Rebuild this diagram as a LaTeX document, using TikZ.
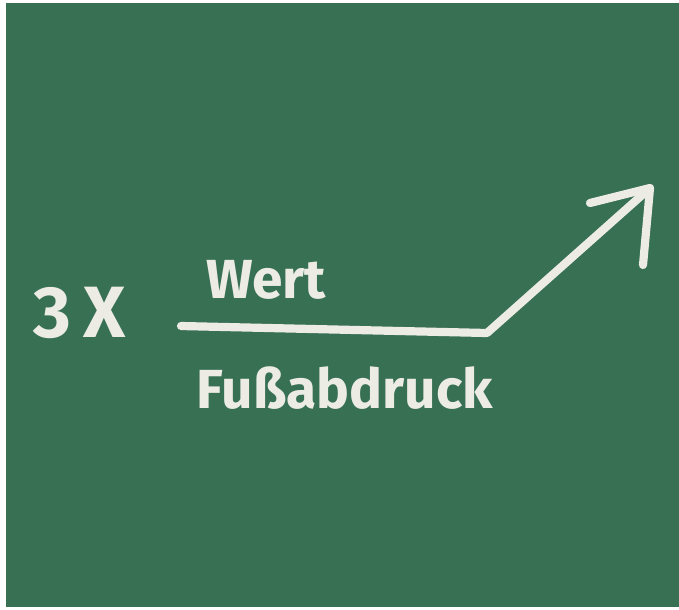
\documentclass[tikz,border=0pt]{standalone}
\usepackage{fontspec}
\setmainfont{Fira Sans}
\definecolor{board}{RGB}{56,112,84}
\definecolor{chalk}{RGB}{236,236,228}
\tikzset{
    chalktext/.style={text=chalk, font=\bfseries\fontsize{47}{54}\selectfont, inner sep=0pt},
    bigchalk/.style={chalktext, font=\bfseries\fontsize{62}{70}\selectfont},
    chalkline/.style={draw=chalk, line width=7pt, line cap=round, line join=round}
}
\begin{document}
\begin{tikzpicture}[x=0.03cm, y=-0.03cm]
    \fill[white] (0,0) rectangle (679,609);
    \fill[board] (6,3) rectangle (679,607);
    \useasboundingbox (0,0) rectangle (679,609);
    % texts
    \node[bigchalk] (factor) at (80,313) {3\,X};
    \node[chalktext] (wert) at (266,280) {Wert};
    \node[chalktext] (fuss) at (345,388) {Fußabdruck};
    % fraction bar and rising arrow
    \coordinate (barstart) at (181,326);
    \coordinate (knick) at (487,333);
    \coordinate (tip) at (650,188);
    \coordinate (headleft) at (590,203);
    \coordinate (headdown) at (643,265);
    \draw[chalkline] (barstart) -- (knick) -- (tip);
    \draw[chalkline] (headleft) -- (tip) -- (headdown);
\end{tikzpicture}
\end{document}
